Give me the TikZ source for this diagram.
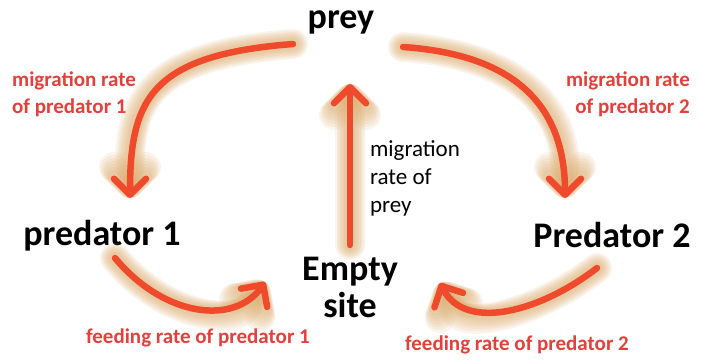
\documentclass[tikz,border=0pt]{standalone}
\usepackage{fontspec}
\setmainfont{Carlito}
\usetikzlibrary{arrows.meta}
\definecolor{arrowred}{HTML}{EE4A2B}
\definecolor{labelred}{HTML}{E2403A}
\definecolor{glowc}{HTML}{D9A766}
\newcommand\glowdraw[1]{%
  \foreach \w in {30,27,24,21,18,15,12}{%
    \draw[glowc, line width=\w pt, opacity=0.12, line cap=round, line join=round,
          -{Straight Barb[length=16pt,width=32pt,round]}] #1;}%
  \draw[mainarrow] #1;}
\begin{document}
\begin{tikzpicture}[x=1pt,y=-1pt,
  mainarrow/.style={draw=arrowred, line width=6.5pt, line cap=round, line join=round,
     -{Straight Barb[length=16pt,width=32pt,round]}},
  bigtext/.style={font=\fontsize{36}{38}\selectfont\bfseries, inner sep=0pt},
  redlabel/.style={font=\fontsize{21}{27}\selectfont\bfseries, text=labelred, inner sep=0pt},
  blacklabel/.style={font=\fontsize{23}{28}\selectfont, inner sep=0pt}]
\useasboundingbox (0,0) rectangle (701,362);
% nodes
\node[bigtext] (prey) at (341,22) {prey};
\node[bigtext] (pred1) at (102,236) {predator 1};
\node[bigtext] (pred2) at (612,235) {Predator 2};
\node[bigtext, align=center, font=\fontsize{36}{37}\selectfont\bfseries] (empty) at (350,287) {Empty\\site};
\node[blacklabel, align=left] (lprey) at (415,178) {migration\\rate of\\prey};
\node[redlabel, align=left, anchor=west] (lm1) at (12,94) {migration rate\\of predator 1};
\node[redlabel, align=right, anchor=east] (lm2) at (690,94) {migration rate\\of predator 2};
\node[redlabel] (lf1) at (198,338) {feeding rate of predator 1};
\node[redlabel] (lf2) at (517,345) {feeding rate of predator 2};
% connector end points
\coordinate (a1s) at (293,44);  \coordinate (a1e) at (130,198);
\coordinate (a2s) at (403,47);  \coordinate (a2e) at (565,198);
\coordinate (a3s) at (350,245); \coordinate (a3e) at (350,84);
\coordinate (a4s) at (115,258); \coordinate (a4e) at (265,282);
\coordinate (a5s) at (597,268); \coordinate (a5e) at (440,283);
% arrows
\glowdraw{(a1s) .. controls (150,55) and (130,100) .. (a1e)}
\glowdraw{(a2s) .. controls (520,55) and (565,110) .. (a2e)}
\glowdraw{(a3s) -- (a3e)}
\glowdraw{(a4s) .. controls (165,318) and (235,325) .. (a4e)}
\glowdraw{(a5s) .. controls (540,312) and (465,332) .. (a5e)}
\end{tikzpicture}
\end{document}
